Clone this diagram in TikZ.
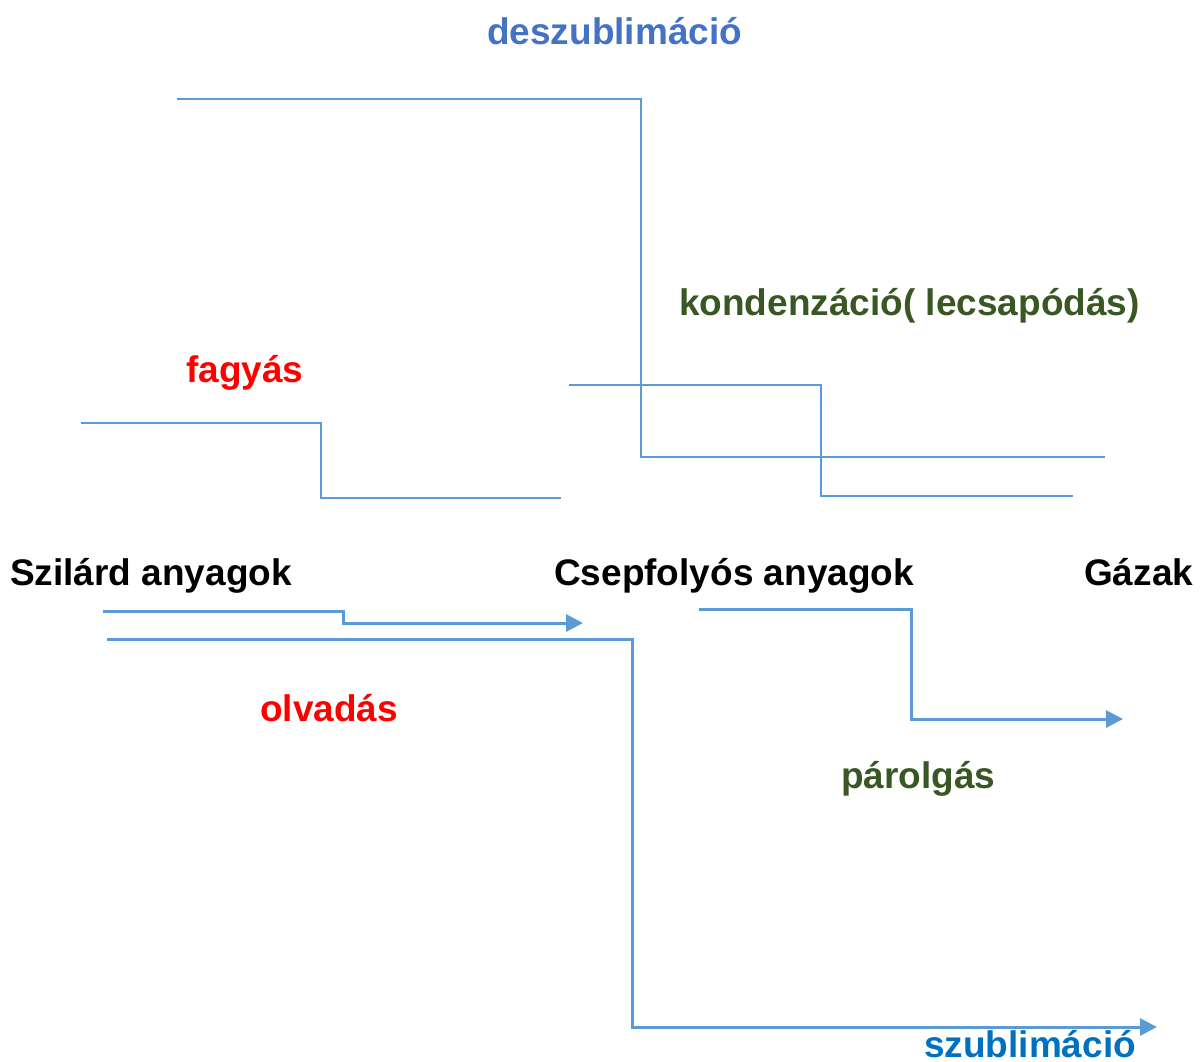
\documentclass[tikz,border=0pt]{standalone}
\usepackage{fontspec}
\setmainfont{Liberation Sans}
\usetikzlibrary{arrows.meta}
\definecolor{lineblue}{HTML}{5B9BD5}
\definecolor{deszblue}{HTML}{4472C4}
\definecolor{szubblue}{HTML}{0070C0}
\definecolor{darkgreen}{HTML}{385723}
\definecolor{redtxt}{HTML}{FF0000}
\tikzset{
  lbl/.style={anchor=base west, inner sep=0pt, font=\fontsize{37}{40}\selectfont\bfseries},
  thinline/.style={draw=lineblue, line width=1.5pt},
  arrline/.style={draw=lineblue, line width=3pt, -{Triangle[length=17pt,width=17pt]}}
}
\begin{document}
\begin{tikzpicture}[x=1pt,y=-1pt]
\useasboundingbox (0,0) rectangle (1203,1062);
% labels
\node[lbl, text=deszblue] (desz) at (487,45) {deszublimáció};
\node[lbl, text=darkgreen] (kond) at (679,315) {kondenzáció( lecsapódás)};
\node[lbl, text=redtxt] (fagy) at (186,382) {fagyás};
\node[lbl] (szil) at (10,585) {Szilárd anyagok};
\node[lbl] (csep) at (554,585) {Csepfolyós anyagok};
\node[lbl] (gaz) at (1084,585) {Gázak};
\node[lbl, text=redtxt] (olv) at (260,721) {olvadás};
\node[lbl, text=darkgreen] (parol) at (841,788) {párolgás};
\node[lbl, text=szubblue] (szub) at (924,1057) {szublimáció};
% connector end points
\coordinate (d1) at (177,99);  \coordinate (d2) at (1105,457);
\coordinate (k1) at (569,385); \coordinate (k2) at (1073,496);
\coordinate (f1) at (81,423);  \coordinate (f2) at (561,498);
\coordinate (o1) at (103,611); \coordinate (o2) at (583,623);
\coordinate (s1) at (107,639); \coordinate (s2) at (1157,1027);
\coordinate (p1) at (699,609); \coordinate (p2) at (1123,719);
% thin step lines
\draw[thinline] (d1) -- (641,99) -- (641,457) -- (d2);
\draw[thinline] (k1) -- (821,385) -- (821,496) -- (k2);
\draw[thinline] (f1) -- (321,423) -- (321,498) -- (f2);
% arrows
\draw[arrline] (o1) -- (343,611) -- (343,623) -- (o2);
\draw[arrline] (s1) -- (632,639) -- (632,1027) -- (s2);
\draw[arrline] (p1) -- (911,609) -- (911,719) -- (p2);
\end{tikzpicture}
\end{document}
